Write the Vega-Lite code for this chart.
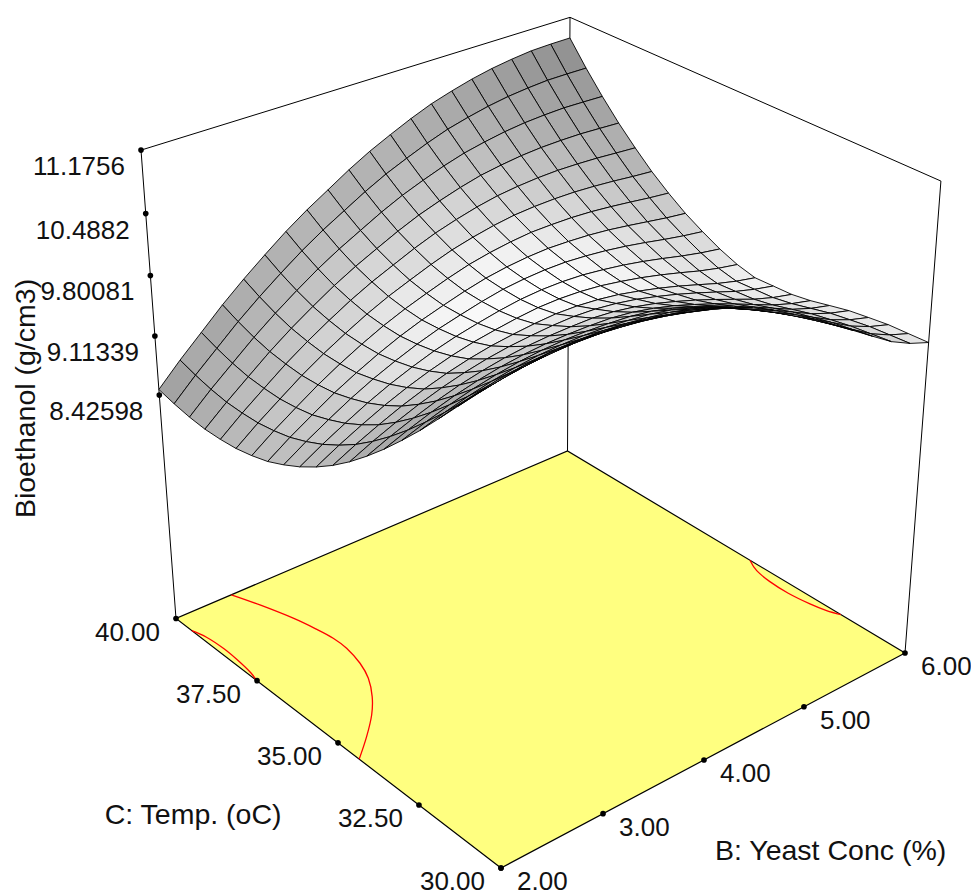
{"$schema":"https://vega.github.io/schema/vega-lite/v6.json","width":971,"height":893,"padding":0,"autosize":"none","background":"#ffffff","config":{"view":{"stroke":null}},
"datasets":{
"refs":[
{"kind":"frame","seg":"a","n":0,"B":2,"C":40},{"kind":"frame","seg":"a","n":1,"B":2,"C":40,"z":11.1756},{"kind":"frame","seg":"a","n":2,"B":6,"C":40,"z":11.1756},{"kind":"frame","seg":"a","n":3,"B":6,"C":30,"z":11.1756},{"kind":"frame","seg":"a","n":4,"B":6,"C":30},
{"kind":"frame","seg":"b","n":0,"B":6,"C":40},{"kind":"frame","seg":"b","n":1,"B":6,"C":40,"z":11.1756},
{"kind":"floor","n":0,"B":2,"C":30},{"kind":"floor","n":1,"B":6,"C":30},{"kind":"floor","n":2,"B":6,"C":40},{"kind":"floor","n":3,"B":2,"C":40},{"kind":"floor","n":4,"B":2,"C":30},
{"kind":"contour","seg":"c1","n":0,"B":2.518,"C":40},{"kind":"contour","seg":"c1","n":1,"B":2.607,"C":39.34},{"kind":"contour","seg":"c1","n":2,"B":2.698,"C":38.54},{"kind":"contour","seg":"c1","n":3,"B":2.747,"C":37.93},{"kind":"contour","seg":"c1","n":4,"B":2.772,"C":37.48},{"kind":"contour","seg":"c1","n":5,"B":2.77,"C":37.04},{"kind":"contour","seg":"c1","n":6,"B":2.728,"C":36.47},{"kind":"contour","seg":"c1","n":7,"B":2.657,"C":35.97},{"kind":"contour","seg":"c1","n":8,"B":2.537,"C":35.45},{"kind":"contour","seg":"c1","n":9,"B":2.394,"C":34.99},{"kind":"contour","seg":"c1","n":10,"B":2.204,"C":34.51},{"kind":"contour","seg":"c1","n":11,"B":2,"C":34.05},
{"kind":"contour","seg":"c2","n":0,"B":2,"C":39.45},{"kind":"contour","seg":"c2","n":1,"B":2.036,"C":39.08},{"kind":"contour","seg":"c2","n":2,"B":2.05,"C":38.56},{"kind":"contour","seg":"c2","n":3,"B":2.044,"C":38.09},{"kind":"contour","seg":"c2","n":4,"B":2.024,"C":37.55},{"kind":"contour","seg":"c2","n":5,"B":2,"C":37.29},
{"kind":"contour","seg":"c3","n":0,"B":6,"C":34.31},{"kind":"contour","seg":"c3","n":1,"B":5.934,"C":33.94},{"kind":"contour","seg":"c3","n":2,"B":5.903,"C":33.48},{"kind":"contour","seg":"c3","n":3,"B":5.897,"C":32.94},{"kind":"contour","seg":"c3","n":4,"B":5.921,"C":32.39},{"kind":"contour","seg":"c3","n":5,"B":5.954,"C":32.01},{"kind":"contour","seg":"c3","n":6,"B":6,"C":31.73},
{"kind":"tick","axis":"z","B":2,"C":40,"z":11.1756,"label":"11.1756"},{"kind":"tick","axis":"z","B":2,"C":40,"z":10.4882,"label":"10.4882"},{"kind":"tick","axis":"z","B":2,"C":40,"z":9.80081,"label":"9.80081"},{"kind":"tick","axis":"z","B":2,"C":40,"z":9.11339,"label":"9.11339"},{"kind":"tick","axis":"z","B":2,"C":40,"z":8.42598,"label":"8.42598"},
{"kind":"tick","axis":"C","B":2,"C":40,"label":"40.00"},{"kind":"tick","axis":"C","B":2,"C":37.26,"label":"37.50"},{"kind":"tick","axis":"C","B":2,"C":34.695,"label":"35.00"},{"kind":"tick","axis":"C","B":2,"C":32.29,"label":"32.50"},{"kind":"tick","axis":"C","B":2,"C":30,"label":"30.00"},
{"kind":"tick","axis":"B","B":2,"C":30,"label":"2.00"},{"kind":"tick","axis":"B","B":2.926,"C":30,"label":"3.00"},{"kind":"tick","axis":"B","B":3.895,"C":30,"label":"4.00"},{"kind":"tick","axis":"B","B":4.911,"C":30,"label":"5.00"},{"kind":"tick","axis":"B","B":6,"C":30,"label":"6.00"},
{"kind":"title","axis":"z","B":2,"C":40,"z":9.80081,"label":"Bioethanol (g/cm3)"},{"kind":"title","axis":"C","B":2,"C":35,"label":"C: Temp. (oC)"},{"kind":"title","axis":"B","B":4,"C":30,"label":"B: Yeast Conc (%)"}
],
"grid":[
{"k":2020,"z":10.934},{"k":2019,"z":10.666},{"k":2018,"z":10.421},{"k":2017,"z":10.197},{"k":2016,"z":9.997},{"k":2015,"z":9.812},{"k":2014,"z":9.653},{"k":2013,"z":9.512},{"k":2012,"z":9.397},{"k":2011,"z":9.294},{"k":2010,"z":9.214},{"k":2009,"z":9.164},{"k":2008,"z":9.174},{"k":2007,"z":9.184},{"k":2006,"z":9.22},{"k":2005,"z":9.273},{"k":2004,"z":9.324},{"k":2003,"z":9.356},{"k":2002,"z":9.385},{"k":2001,"z":9.396},{"k":2000,"z":9.408},
{"k":1920,"z":10.933},{"k":1919,"z":10.67},{"k":1918,"z":10.43},{"k":1917,"z":10.211},{"k":1916,"z":10.015},{"k":1915,"z":9.834},{"k":1914,"z":9.68},{"k":1913,"z":9.543},{"k":1912,"z":9.433},{"k":1911,"z":9.335},{"k":1910,"z":9.259},{"k":1909,"z":9.213},{"k":1908,"z":9.226},{"k":1907,"z":9.238},{"k":1906,"z":9.277},{"k":1905,"z":9.332},{"k":1904,"z":9.387},{"k":1903,"z":9.423},{"k":1902,"z":9.457},{"k":1901,"z":9.475},{"k":1900,"z":9.493},
{"k":1820,"z":10.926},{"k":1819,"z":10.67},{"k":1818,"z":10.437},{"k":1817,"z":10.224},{"k":1816,"z":10.034},{"k":1815,"z":9.861},{"k":1814,"z":9.713},{"k":1813,"z":9.582},{"k":1812,"z":9.477},{"k":1811,"z":9.386},{"k":1810,"z":9.316},{"k":1809,"z":9.276},{"k":1808,"z":9.292},{"k":1807,"z":9.31},{"k":1806,"z":9.353},{"k":1805,"z":9.413},{"k":1804,"z":9.473},{"k":1803,"z":9.516},{"k":1802,"z":9.556},{"k":1801,"z":9.582},{"k":1800,"z":9.608},
{"k":1720,"z":10.9},{"k":1719,"z":10.654},{"k":1718,"z":10.43},{"k":1717,"z":10.226},{"k":1716,"z":10.046},{"k":1715,"z":9.882},{"k":1714,"z":9.743},{"k":1713,"z":9.621},{"k":1712,"z":9.526},{"k":1711,"z":9.444},{"k":1710,"z":9.384},{"k":1709,"z":9.352},{"k":1708,"z":9.375},{"k":1707,"z":9.4},{"k":1706,"z":9.45},{"k":1705,"z":9.518},{"k":1704,"z":9.585},{"k":1703,"z":9.638},{"k":1702,"z":9.689},{"k":1701,"z":9.725},{"k":1700,"z":9.762},
{"k":1620,"z":10.865},{"k":1619,"z":10.63},{"k":1618,"z":10.416},{"k":1617,"z":10.222},{"k":1616,"z":10.052},{"k":1615,"z":9.897},{"k":1614,"z":9.768},{"k":1613,"z":9.656},{"k":1612,"z":9.57},{"k":1611,"z":9.498},{"k":1610,"z":9.448},{"k":1609,"z":9.426},{"k":1608,"z":9.456},{"k":1607,"z":9.49},{"k":1606,"z":9.548},{"k":1605,"z":9.623},{"k":1604,"z":9.698},{"k":1603,"z":9.761},{"k":1602,"z":9.823},{"k":1601,"z":9.87},{"k":1600,"z":9.919},
{"k":1520,"z":10.816},{"k":1519,"z":10.592},{"k":1518,"z":10.389},{"k":1517,"z":10.206},{"k":1516,"z":10.046},{"k":1515,"z":9.901},{"k":1514,"z":9.783},{"k":1513,"z":9.681},{"k":1512,"z":9.606},{"k":1511,"z":9.544},{"k":1510,"z":9.505},{"k":1509,"z":9.492},{"k":1508,"z":9.531},{"k":1507,"z":9.574},{"k":1506,"z":9.641},{"k":1505,"z":9.724},{"k":1504,"z":9.809},{"k":1503,"z":9.882},{"k":1502,"z":9.955},{"k":1501,"z":10.015},{"k":1500,"z":10.076},
{"k":1420,"z":10.753},{"k":1419,"z":10.541},{"k":1418,"z":10.349},{"k":1417,"z":10.177},{"k":1416,"z":10.029},{"k":1415,"z":9.895},{"k":1414,"z":9.786},{"k":1413,"z":9.695},{"k":1412,"z":9.632},{"k":1411,"z":9.58},{"k":1410,"z":9.552},{"k":1409,"z":9.55},{"k":1408,"z":9.597},{"k":1407,"z":9.65},{"k":1406,"z":9.726},{"k":1405,"z":9.818},{"k":1404,"z":9.912},{"k":1403,"z":9.997},{"k":1402,"z":10.081},{"k":1401,"z":10.154},{"k":1400,"z":10.227},
{"k":1320,"z":10.681},{"k":1319,"z":10.481},{"k":1318,"z":10.3},{"k":1317,"z":10.14},{"k":1316,"z":10.002},{"k":1315,"z":9.879},{"k":1314,"z":9.783},{"k":1313,"z":9.702},{"k":1312,"z":9.649},{"k":1311,"z":9.609},{"k":1310,"z":9.592},{"k":1309,"z":9.601},{"k":1308,"z":9.657},{"k":1307,"z":9.719},{"k":1306,"z":9.804},{"k":1305,"z":9.905},{"k":1304,"z":10.01},{"k":1303,"z":10.105},{"k":1302,"z":10.201},{"k":1301,"z":10.287},{"k":1300,"z":10.373},
{"k":1220,"z":10.587},{"k":1219,"z":10.399},{"k":1218,"z":10.231},{"k":1217,"z":10.081},{"k":1216,"z":9.956},{"k":1215,"z":9.844},{"k":1214,"z":9.759},{"k":1213,"z":9.69},{"k":1212,"z":9.649},{"k":1211,"z":9.621},{"k":1210,"z":9.616},{"k":1209,"z":9.635},{"k":1208,"z":9.701},{"k":1207,"z":9.773},{"k":1206,"z":9.867},{"k":1205,"z":9.978},{"k":1204,"z":10.092},{"k":1203,"z":10.2},{"k":1202,"z":10.309},{"k":1201,"z":10.408},{"k":1200,"z":10.507},
{"k":1120,"z":10.48},{"k":1119,"z":10.304},{"k":1118,"z":10.148},{"k":1117,"z":10.01},{"k":1116,"z":9.896},{"k":1115,"z":9.796},{"k":1114,"z":9.723},{"k":1113,"z":9.665},{"k":1112,"z":9.634},{"k":1111,"z":9.619},{"k":1110,"z":9.625},{"k":1109,"z":9.655},{"k":1108,"z":9.73},{"k":1107,"z":9.812},{"k":1106,"z":9.916},{"k":1105,"z":10.037},{"k":1104,"z":10.161},{"k":1103,"z":10.281},{"k":1102,"z":10.401},{"k":1101,"z":10.514},{"k":1100,"z":10.626},
{"k":1020,"z":10.367},{"k":1019,"z":10.203},{"k":1018,"z":10.057},{"k":1017,"z":9.93},{"k":1016,"z":9.826},{"k":1015,"z":9.737},{"k":1014,"z":9.674},{"k":1013,"z":9.626},{"k":1012,"z":9.607},{"k":1011,"z":9.601},{"k":1010,"z":9.618},{"k":1009,"z":9.659},{"k":1008,"z":9.741},{"k":1007,"z":9.833},{"k":1006,"z":9.945},{"k":1005,"z":10.074},{"k":1004,"z":10.208},{"k":1003,"z":10.338},{"k":1002,"z":10.47},{"k":1001,"z":10.594},{"k":1000,"z":10.719},
{"k":920,"z":10.235},{"k":919,"z":10.082},{"k":918,"z":9.947},{"k":917,"z":9.83},{"k":916,"z":9.737},{"k":915,"z":9.658},{"k":914,"z":9.605},{"k":913,"z":9.568},{"k":912,"z":9.559},{"k":911,"z":9.564},{"k":910,"z":9.591},{"k":909,"z":9.642},{"k":908,"z":9.733},{"k":907,"z":9.832},{"k":906,"z":9.954},{"k":905,"z":10.091},{"k":904,"z":10.234},{"k":903,"z":10.375},{"k":902,"z":10.517},{"k":901,"z":10.654},{"k":900,"z":10.791},
{"k":820,"z":10.087},{"k":819,"z":9.946},{"k":818,"z":9.822},{"k":817,"z":9.717},{"k":816,"z":9.634},{"k":815,"z":9.567},{"k":814,"z":9.525},{"k":813,"z":9.498},{"k":812,"z":9.5},{"k":811,"z":9.516},{"k":810,"z":9.554},{"k":809,"z":9.616},{"k":808,"z":9.714},{"k":807,"z":9.825},{"k":806,"z":9.955},{"k":805,"z":10.101},{"k":804,"z":10.254},{"k":803,"z":10.406},{"k":802,"z":10.56},{"k":801,"z":10.709},{"k":800,"z":10.859},
{"k":720,"z":9.94},{"k":719,"z":9.81},{"k":718,"z":9.696},{"k":717,"z":9.601},{"k":716,"z":9.53},{"k":715,"z":9.473},{"k":714,"z":9.44},{"k":713,"z":9.424},{"k":712,"z":9.437},{"k":711,"z":9.463},{"k":710,"z":9.512},{"k":709,"z":9.583},{"k":708,"z":9.689},{"k":707,"z":9.808},{"k":706,"z":9.947},{"k":705,"z":10.102},{"k":704,"z":10.262},{"k":703,"z":10.426},{"k":702,"z":10.592},{"k":701,"z":10.752},{"k":700,"z":10.914},
{"k":620,"z":9.776},{"k":619,"z":9.657},{"k":618,"z":9.555},{"k":617,"z":9.47},{"k":616,"z":9.409},{"k":615,"z":9.362},{"k":614,"z":9.341},{"k":613,"z":9.335},{"k":612,"z":9.357},{"k":611,"z":9.395},{"k":610,"z":9.454},{"k":609,"z":9.535},{"k":608,"z":9.65},{"k":607,"z":9.778},{"k":606,"z":9.925},{"k":605,"z":10.088},{"k":604,"z":10.258},{"k":603,"z":10.432},{"k":602,"z":10.609},{"k":601,"z":10.782},{"k":600,"z":10.956},
{"k":520,"z":9.593},{"k":519,"z":9.486},{"k":518,"z":9.395},{"k":517,"z":9.321},{"k":516,"z":9.271},{"k":515,"z":9.235},{"k":514,"z":9.225},{"k":513,"z":9.23},{"k":512,"z":9.263},{"k":511,"z":9.311},{"k":510,"z":9.382},{"k":509,"z":9.473},{"k":508,"z":9.597},{"k":507,"z":9.734},{"k":506,"z":9.891},{"k":505,"z":10.063},{"k":504,"z":10.243},{"k":503,"z":10.428},{"k":502,"z":10.616},{"k":501,"z":10.802},{"k":500,"z":10.989},
{"k":420,"z":9.401},{"k":419,"z":9.305},{"k":418,"z":9.225},{"k":417,"z":9.163},{"k":416,"z":9.124},{"k":415,"z":9.098},{"k":414,"z":9.097},{"k":413,"z":9.112},{"k":412,"z":9.158},{"k":411,"z":9.216},{"k":410,"z":9.297},{"k":409,"z":9.398},{"k":408,"z":9.53},{"k":407,"z":9.678},{"k":406,"z":9.843},{"k":405,"z":10.023},{"k":404,"z":10.212},{"k":403,"z":10.408},{"k":402,"z":10.608},{"k":401,"z":10.807},{"k":400,"z":11.005},
{"k":320,"z":9.194},{"k":319,"z":9.11},{"k":318,"z":9.04},{"k":317,"z":8.989},{"k":316,"z":8.961},{"k":315,"z":8.946},{"k":314,"z":8.956},{"k":313,"z":8.982},{"k":312,"z":9.037},{"k":311,"z":9.106},{"k":310,"z":9.198},{"k":309,"z":9.31},{"k":308,"z":9.45},{"k":307,"z":9.606},{"k":306,"z":9.781},{"k":305,"z":9.97},{"k":304,"z":10.168},{"k":303,"z":10.375},{"k":302,"z":10.586},{"k":301,"z":10.797},{"k":300,"z":11.008},
{"k":220,"z":8.966},{"k":219,"z":8.894},{"k":218,"z":8.836},{"k":217,"z":8.795},{"k":216,"z":8.779},{"k":215,"z":8.775},{"k":214,"z":8.796},{"k":213,"z":8.833},{"k":212,"z":8.9},{"k":211,"z":8.98},{"k":210,"z":9.084},{"k":209,"z":9.206},{"k":208,"z":9.355},{"k":207,"z":9.521},{"k":206,"z":9.704},{"k":205,"z":9.903},{"k":204,"z":10.11},{"k":203,"z":10.329},{"k":202,"z":10.553},{"k":201,"z":10.776},{"k":200,"z":11.0},
{"k":120,"z":8.739},{"k":119,"z":8.678},{"k":118,"z":8.631},{"k":117,"z":8.6},{"k":116,"z":8.594},{"k":115,"z":8.601},{"k":114,"z":8.633},{"k":113,"z":8.68},{"k":112,"z":8.755},{"k":111,"z":8.847},{"k":110,"z":8.961},{"k":109,"z":9.093},{"k":108,"z":9.25},{"k":107,"z":9.425},{"k":106,"z":9.616},{"k":105,"z":9.823},{"k":104,"z":10.04},{"k":103,"z":10.27},{"k":102,"z":10.503},{"k":101,"z":10.739},{"k":100,"z":10.975},
{"k":20,"z":8.492},{"k":19,"z":8.443},{"k":18,"z":8.407},{"k":17,"z":8.388},{"k":16,"z":8.392},{"k":15,"z":8.41},{"k":14,"z":8.452},{"k":13,"z":8.51},{"k":12,"z":8.597},{"k":11,"z":8.7},{"k":10,"z":8.824},{"k":9,"z":8.967},{"k":8,"z":9.132},{"k":7,"z":9.317},{"k":6,"z":9.517},{"k":5,"z":9.733},{"k":4,"z":9.959},{"k":3,"z":10.2},{"k":2,"z":10.445},{"k":1,"z":10.694},{"k":0,"z":10.942}
]},
"encoding":{"x":{"field":"sx","type":"quantitative","scale":{"domain":[0,971],"nice":false,"zero":false},"axis":null},"y":{"field":"sy","type":"quantitative","scale":{"domain":[893,0],"nice":false,"zero":false},"axis":null}},
"layer":[
{"data":{"name":"refs"},
"transform":[
{"calculate":"(datum.B-2)/4","as":"u"},{"calculate":"(datum.C-30)/10","as":"v"},{"calculate":"datum.z?(datum.z-5.67636)/5.49924:0","as":"h"},
{"calculate":"1+0.12169*datum.u+0.13683*datum.v-0.1001*datum.h","as":"den"},
{"calculate":"(501+514.13*datum.u-300.92*datum.v-53.9*datum.h)/datum.den","as":"sx"},
{"calculate":"(868-135.54*datum.u-164.87*datum.v-547.5*datum.h)/datum.den","as":"sy"}],
"layer":[
{"transform":[{"filter":"datum.kind=='frame'"}],"mark":{"type":"line","stroke":"#000000","strokeWidth":1},"encoding":{"detail":{"field":"seg"},"order":{"field":"n"}}},
{"transform":[{"filter":"datum.kind=='floor'"}],"mark":{"type":"line","fill":"#FFFF80","stroke":"#000000","strokeWidth":1.2},"encoding":{"order":{"field":"n"}}},
{"transform":[{"filter":"datum.kind=='contour'"}],"mark":{"type":"line","stroke":"#FF0000","strokeWidth":1.3,"interpolate":"cardinal"},"encoding":{"detail":{"field":"seg"},"order":{"field":"n"}}},
{"transform":[{"filter":"datum.kind=='tick'"}],"mark":{"type":"point","filled":true,"size":32,"color":"#000000","opacity":1}},
{"transform":[{"filter":"datum.kind=='tick'&&datum.axis=='z'"}],"mark":{"type":"text","font":"Liberation Sans","fontSize":26,"align":"right","baseline":"middle","dx":-16,"dy":17,"color":"#111111"},"encoding":{"text":{"field":"label"}}},
{"transform":[{"filter":"datum.kind=='tick'&&datum.axis=='C'"}],"mark":{"type":"text","font":"Liberation Sans","fontSize":26,"align":"right","baseline":"middle","dx":-16,"dy":14,"color":"#111111"},"encoding":{"text":{"field":"label"}}},
{"transform":[{"filter":"datum.kind=='tick'&&datum.axis=='B'"}],"mark":{"type":"text","font":"Liberation Sans","fontSize":26,"align":"left","baseline":"middle","dx":16,"dy":14,"color":"#111111"},"encoding":{"text":{"field":"label"}}},
{"transform":[{"filter":"datum.kind=='title'&&datum.axis=='z'"}],"mark":{"type":"text","font":"Liberation Sans","fontSize":28.5,"align":"center","baseline":"middle","angle":270,"dx":-123,"dy":-124,"color":"#111111"},"encoding":{"text":{"field":"label"}}},
{"transform":[{"filter":"datum.kind=='title'&&datum.axis=='C'"}],"mark":{"type":"text","font":"Liberation Sans","fontSize":28.5,"align":"center","baseline":"middle","dx":-135,"dy":80,"color":"#111111"},"encoding":{"text":{"field":"label"}}},
{"transform":[{"filter":"datum.kind=='title'&&datum.axis=='B'"}],"mark":{"type":"text","font":"Liberation Sans","fontSize":28.5,"align":"center","baseline":"middle","dx":116,"dy":97,"color":"#111111"},"encoding":{"text":{"field":"label"}}}
]},
{"data":{"name":"grid"},
"transform":[
{"calculate":"floor(datum.k/100)","as":"i"},{"calculate":"datum.k%100","as":"j"},{"filter":"datum.i<20&&datum.j<20"},
{"calculate":"datum.k+100","as":"k10"},{"calculate":"datum.k+1","as":"k01"},{"calculate":"datum.k+101","as":"k11"},
{"lookup":"k10","from":{"data":{"name":"grid"},"key":"k","fields":["z"]},"as":["z10"]},
{"lookup":"k01","from":{"data":{"name":"grid"},"key":"k","fields":["z"]},"as":["z01"]},
{"lookup":"k11","from":{"data":{"name":"grid"},"key":"k","fields":["z"]},"as":["z11"]},
{"calculate":"(datum.z10-datum.z+datum.z11-datum.z01)*3.637","as":"wu"},
{"calculate":"(datum.z01-datum.z+datum.z11-datum.z10)*3.637","as":"wv"},
{"calculate":"max(0.55,min(1,(1+0.03*datum.wu)/sqrt(1+0.45*(datum.wu*datum.wu+datum.wv*datum.wv))))","as":"shade"},
{"calculate":"[0,1,2,3,4]","as":"corner"},{"flatten":["corner"]},
{"calculate":"datum.corner==1||datum.corner==2?datum.i+1:datum.i","as":"ci"},
{"calculate":"datum.corner==2||datum.corner==3?datum.j+1:datum.j","as":"cj"},
{"calculate":"datum.corner==1?datum.z10:datum.corner==2?datum.z11:datum.corner==3?datum.z01:datum.z","as":"cz"},
{"calculate":"datum.ci/20","as":"u"},{"calculate":"datum.cj/20","as":"v"},{"calculate":"(datum.cz-5.67636)/5.49924","as":"h"},
{"calculate":"1+0.12169*datum.u+0.13683*datum.v-0.1001*datum.h","as":"den"},
{"calculate":"(501+514.13*datum.u-300.92*datum.v-53.9*datum.h)/datum.den","as":"sx"},
{"calculate":"(868-135.54*datum.u-164.87*datum.v-547.5*datum.h)/datum.den","as":"sy"}],
"mark":{"type":"line","stroke":"#000000","strokeWidth":0.9},
"encoding":{"detail":{"field":"k"},"order":{"field":"corner"},"fill":{"field":"shade","type":"quantitative","scale":{"domain":[0,1],"range":["#000000","#ffffff"]},"legend":null}}}
]}
